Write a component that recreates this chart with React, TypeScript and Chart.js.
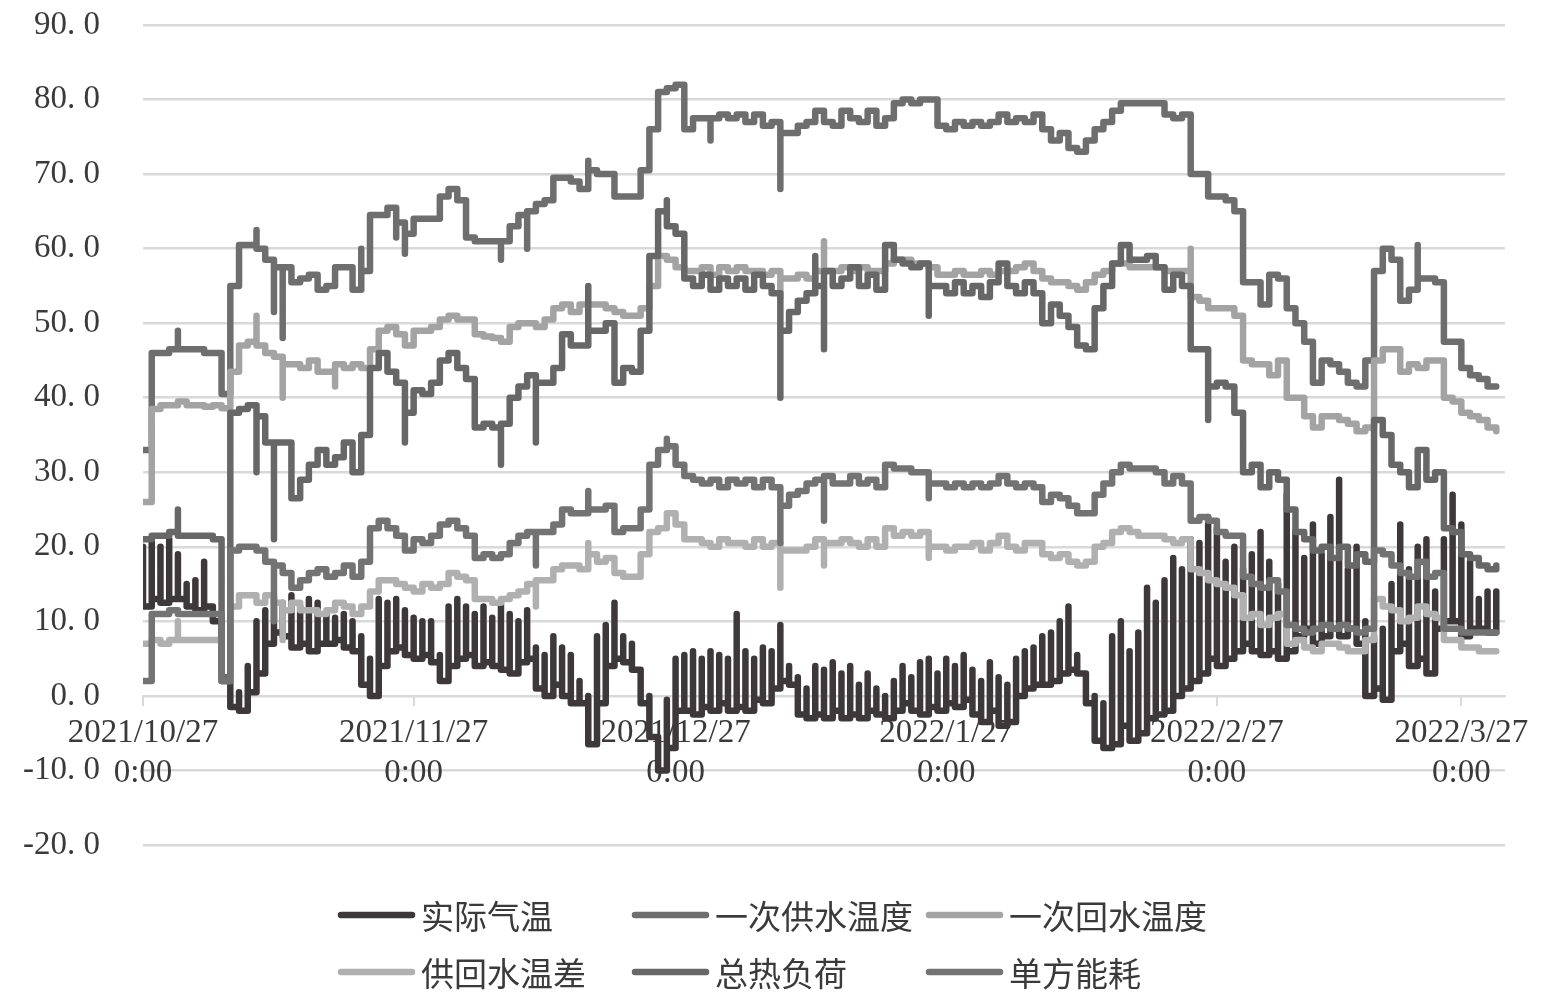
import React, { useEffect, useRef } from 'react';
import { Chart, registerables } from 'chart.js';

Chart.register(...registerables);

// ---- axis / label data ----
const xTickDays = [0, 31, 61, 92, 123, 151];
const xTickLabels = ['2021/10/27', '2021/11/27', '2021/12/27', '2022/1/27', '2022/2/27', '2022/3/27'];
const xTickTime = '0:00';
const yMin = -20;
const yMax = 90;
const yStep = 10;
const seriesNames = ['实际气温', '一次供水温度', '一次回水温度', '供回水温差', '总热负荷', '单方能耗'];

// ---- 实际气温: daily high / low (day index from 2021/10/27) ----
const tempHigh = [
  20, 21, 20, 21, 19, 15, 15.5, 18, 12, 10,
  1.5, 0.5, 4, 10, 11.5, 13, 12.5, 13.5, 12, 13,
  12.5, 11, 10.5, 11, 10, 8, 5, 13, 12.5, 13,
  11.5, 10.5, 10, 10, 5.5, 12, 13, 12, 11, 12,
  10.5, 12.5, 11, 10, 11.5, 6.5, 5.5, 8, 6.5, 5.5,
  2, 0, 8, 9.5, 12.5, 8, 7, 3, 0, -6,
  -0.5, 5, 5.5, 6, 5, 6, 5.5, 5, 11, 6,
  5, 6.5, 6, 9.5, 4, 2.5, 1, 4, 3.5, 4.5,
  3, 4, 1.5, 3, 1, 0, 2, 4, 2.5, 4.5,
  5, 3, 5, 4, 5.5, 3.5, 2, 4.5, 2.5, 1.5,
  5, 6, 6.5, 8, 8.5, 10, 12, 5.5, 1.5, 0,
  -1, 8, 10, 6, 8.5, 14.5, 12.5, 15.5, 18.5, 17,
  21, 20.5, 24, 22.5, 18, 20, 17, 19, 22, 18,
  15, 27, 22, 18.5, 23, 19, 24, 29, 17, 20,
  10, 8, 9, 15, 23, 17, 20, 21, 14, 21,
  27, 23, 18, 13, 14, 14,
];
const tempLow = [
  12, 13, 12.5, 13, 13, 12, 11.5, 12, 10, 2,
  -1.5, -2, 0.5, 3, 7, 8.5, 8, 6.5, 7, 6,
  7, 7, 7.5, 6.5, 6, 1.5, 0, 4, 6, 6.5,
  5.5, 5, 5.5, 4.5, 2, 4, 5, 5.5, 4, 4.5,
  4, 3.5, 3, 4.5, 5, 1, 0, 1.5, 0, -1,
  -1, -6.5, -1, 4, 5, 4.5, 3.5, -1, -5.5, -10,
  -7, -2, -2, -2.5, -1.5, -2, -1, -2, -1.5, -2,
  -0.5, -1, 1, 2, 1.5, -2.5, -3, -2.5, -3, -2,
  -3, -2.5, -3, -2, -2.5, -3, -2, -1, -2, -2.5,
  -1.5, -2, -1, -1.5, -0.5, -2.5, -3.5, -2, -4, -3.5,
  0, 1, 1.5, 1.5, 2, 3, 3.5, 3, -1, -6,
  -7, -6.5, -4, -6, -5, -3, -2.5, -2, 0, 1,
  2, 3, 5, 4, 5, 6, 7, 6, 5.5, 6,
  5, 6, 8, 9, 7, 8, 9, 8, 9, 7,
  0, 1, -0.5, 6, 7, 4, 5, 3, 9, 10,
  10, 8, 9, 9, 8.5, 8.5,
];

// ---- 一次供水温度 ----
const supplyTemp = [
  33, 46, 46, 46.5, 46.5, 46.5, 46.5, 46, 46, 40.5,
  55, 60.5, 60.5, 60, 58.5, 57.5, 57.5, 55.5, 56, 56.5,
  54.5, 55, 57.5, 57.5, 54.5, 57, 64.5, 64.5, 65.5, 63.5,
  62, 64, 64, 64, 67, 68, 66.5, 61.5, 61, 61,
  61, 61, 63, 64.5, 65, 66, 66.5, 69.5, 69.5, 69,
  68, 70.5, 70, 70, 67, 67, 67, 70.5, 76, 81,
  81.5, 82, 76, 77.5, 77.5, 77.5, 78, 77.5, 78, 77,
  78, 76.5, 77, 75.5, 75.5, 76.5, 77, 78.5, 77, 76.5,
  78.5, 77.5, 77, 78.5, 76.5, 77.5, 79.5, 80, 79.5, 80,
  80, 76.5, 76, 77, 76.5, 77, 76.5, 77, 78, 77,
  77.5, 77, 78, 76, 74.5, 75.5, 73.5, 73, 74.5, 76,
  77, 78.5, 79.5, 79.5, 79.5, 79.5, 79.5, 78, 77.5, 78,
  70, 70, 67, 67, 66.5, 65, 55.5, 55.5, 52.5, 56.5,
  56, 52, 50, 47.5, 42, 45, 44.5, 43.5, 42, 41.5,
  45, 57, 60, 58.5, 53, 54.5, 56, 56, 55.5, 47.5,
  47.5, 44, 43, 42.5, 41.5, 41.5,
];
const supplySpikes = [
  [4, 49], [13, 62.5], [15, 51.5], [16, 48], [25, 60], [29, 61.5], [30, 59.3],
  [41, 58.5], [44, 60], [51, 71.8], [65, 74.5], [73, 68], [146, 60.5],
];

// ---- 一次回水温度 ----
const returnTemp = [
  26, 38.5, 39, 39, 39.5, 39, 39, 38.8, 39, 38.6,
  43.5, 47, 47.5, 47, 46, 45.5, 44.5, 44.5, 44, 45,
  43.5, 43.5, 44.5, 44, 44.5, 44, 46.5, 49, 49.5, 48.5,
  47, 49, 49, 49.5, 50.5, 51, 50.5, 50.5, 48.5, 48.2,
  48, 47.5, 49.5, 50, 50, 49.5, 50.5, 52, 52.5, 51.5,
  52.5, 52.5, 52.5, 52, 51.5, 51, 51, 52, 55, 59,
  58.5, 57.5, 57, 57, 57.5, 56.5, 57.5, 57, 57.5, 57,
  57, 56.5, 57, 56, 56, 56.5, 56, 57, 57, 57,
  57.5, 57, 57.5, 57, 57, 58, 58.5, 58.5, 58, 58,
  57.5, 56.5, 56.5, 57, 56.5, 56.5, 57, 56.5, 57, 57,
  57.5, 58, 57, 56, 55.5, 55.5, 55, 54.5, 55.5, 56.5,
  57, 58, 58, 57.5, 57.5, 57.5, 57.5, 57, 57, 57,
  53.5, 53, 52, 52, 52, 51, 45, 44.5, 44.5, 43,
  45, 40, 40, 37.5, 36, 37.5, 37.5, 37, 36.5, 35.5,
  36, 45, 46.5, 46.5, 43.5, 44.5, 44, 45, 45, 40,
  39.5, 38, 37.5, 37, 36, 35.5,
];
const returnSpikes = [[13, 51], [16, 40], [22, 41.5], [73, 53.5], [78, 61], [120, 60]];

// ---- 供回水温差 ----
const tempDiff = [
  7, 7.5, 7, 7.5, 7.5, 7.5, 7.5, 7.5, 7.5, 2,
  12, 13.5, 13.5, 12.5, 13.5, 12.5, 11.5, 12.5, 11.5, 11.5,
  11, 11.5, 12.5, 12, 11, 12, 14, 15.5, 15.5, 15,
  14.5, 14, 15, 14.5, 15, 16.5, 16, 15.5, 13, 13,
  12.5, 13, 13.5, 14, 15, 15.5, 15.5, 17, 17.5, 17.5,
  17, 19, 18, 18.5, 16.5, 16, 16, 19, 22, 22.5,
  24.5, 23, 21, 21, 20.5, 20, 21, 20.5, 20.5, 20,
  21, 20, 20.5, 19.5, 19.5, 19.5, 20, 21, 20.5, 20.5,
  21, 20.5, 20, 21, 20, 22.5, 21.5, 22, 21.5, 22,
  20, 20, 19.5, 20, 20, 20.5, 19.5, 20.5, 21.5, 20,
  19.5, 20.5, 20.5, 19, 18.5, 19, 18, 17.5, 18, 20,
  20.5, 22, 22.5, 22, 21.5, 21.5, 21.5, 21, 20.5, 21,
  17, 16.5, 15.5, 15, 14.5, 13.5, 10.5, 11, 9.5, 10.5,
  11, 7, 7.5, 6.5, 6, 7, 7, 6.5, 6, 6,
  7.5, 13, 12, 11.5, 10, 10.5, 12, 11, 10.5, 7.5,
  7.5, 6.5, 6.5, 6, 6, 6,
];
const diffSpikes = [[4, 10], [16, 7.5], [45, 12], [51, 20.5], [73, 14.5], [78, 17.5], [90, 18.5]];

// ---- 总热负荷 ----
const heatLoad = [
  21, 21.5, 21.5, 22, 21.5, 21.5, 21.5, 21.5, 21, 2.5,
  38, 38.5, 39, 37.5, 34, 34, 34, 26.5, 29, 31,
  33, 31, 32, 34, 30, 35, 44, 46, 43.5, 42,
  38, 41, 40.5, 42, 45, 46, 44, 42.5, 36, 36.5,
  36, 36.5, 40, 41.5, 43, 42, 42, 44, 48.5, 47,
  47, 49, 49, 50, 42, 44, 43.5, 49, 59, 65,
  63, 62, 56, 55, 56.5, 54.5, 56, 55, 56, 54.5,
  56.5, 55, 54, 49, 51.5, 53, 54, 55, 57, 55,
  56, 57.5, 55, 56.5, 54.5, 60.5, 58.5, 58, 57.5, 58,
  55, 55, 54, 55.5, 54, 55, 53.5, 55.5, 58, 55,
  54, 55.5, 54, 50, 52.5, 51, 49.5, 47, 46.5, 52,
  55, 58, 60.5, 58.5, 58.5, 59, 57.5, 54.5, 56.5, 55,
  46.5, 46.5, 41.5, 42, 41.5, 38, 30, 31, 28, 30,
  29, 25, 22, 21, 19.5, 20, 18.5, 20, 17.5, 19,
  18, 37, 35, 31, 30, 28, 33, 29, 30, 22.5,
  22, 19, 18.5, 17.5, 17, 17.5,
];
const loadSpikes = [
  [4, 25], [13, 30], [15, 21], [30, 34], [41, 31], [45, 34], [51, 55], [60, 66.5],
  [73, 40], [77, 59], [78, 46.5], [90, 51], [122, 37],
];

// ---- 单方能耗 ----
const unitEnergy = [
  2, 11, 11, 11.5, 11, 11, 11, 11, 11, 2,
  19.5, 20, 20, 19.5, 18, 17.5, 16.5, 14.5, 15.5, 16.5,
  17, 16, 16.5, 17.5, 16, 18, 22.5, 23.5, 22.5, 21.5,
  19.5, 21, 20.5, 21.5, 23, 23.5, 22.5, 21.5, 18.5, 19,
  18.5, 19, 20.5, 21.5, 22, 22, 22, 23, 25, 24.5,
  24.5, 25, 25, 25.5, 22, 22.5, 22.5, 25, 31, 33,
  33.5, 31, 29.5, 29, 28.5, 29, 28, 29, 28.5, 29,
  28, 29, 28, 25.5, 27, 27.5, 28.5, 29, 29.5, 28.5,
  28.5, 29.5, 28.5, 29, 28, 31, 30.5, 30.5, 30, 30,
  28.5, 28.5, 28, 28.5, 28, 28.5, 28, 28.5, 29.5, 28.5,
  28, 28.5, 28, 26, 27, 26.5, 25.5, 24.5, 24.5, 27,
  28.5, 30, 31, 30.5, 30.5, 30.5, 30, 28.5, 29.5, 28.5,
  23.5, 24, 23.5, 22, 21.5, 21.5, 16, 15, 14.5, 15.5,
  14, 9.5, 9, 8.5, 9, 9.5, 9, 9.5, 9, 8.5,
  9, 19.5, 19, 17.5, 16.5, 16, 18, 16, 16.5, 9,
  9, 8.5, 8.5, 8.5, 8.5, 8.5,
];
const energySpikes = [[15, 10], [45, 17.5], [51, 27.5], [60, 34.5], [73, 20.5], [78, 23.5], [90, 26.5]];

// ---- styles ----
const seriesColors = ['#3d393a', '#6e6e6e', '#a3a3a3', '#b0b0b0', '#676767', '#737373'];
const AXIS_FONT = "'Liberation Serif', 'DejaVu Serif', serif";
const LEGEND_FONT = "'Noto Sans CJK SC', 'Noto Sans', sans-serif";
const TEXT_COLOR = '#3a3a3a';
const GRID_COLOR = '#d9d9d9';

type Pt = { x: number; y: number };

function buildDaily(daily: number[], spikes: number[][]): Pt[] {
  const pts: Pt[] = [];
  daily.forEach((v, d) => {
    spikes.forEach(([sd, sv]) => {
      if (sd === d) pts.push({ x: d, y: sv });
    });
    pts.push({ x: d, y: v });
  });
  return pts;
}

function buildTemp(): Pt[] {
  const pts: Pt[] = [];
  tempHigh.forEach((h, d) => {
    pts.push({ x: d, y: h });
    pts.push({ x: d, y: tempLow[d] });
  });
  return pts;
}

function formatY(v: number): string {
  return v.toFixed(1).replace('.', '. ');
}

const gridLegend = {
  id: 'gridLegend',
  afterDraw(chart: any) {
    const ctx = chart.ctx as CanvasRenderingContext2D;
    const colX = [341, 635, 929];
    const rowY = [915, 972];
    ctx.save();
    seriesNames.forEach((name, i) => {
      const x = colX[i % 3];
      const y = rowY[Math.floor(i / 3)];
      ctx.strokeStyle = seriesColors[i];
      ctx.lineWidth = 6.5;
      ctx.lineCap = 'round';
      ctx.beginPath();
      ctx.moveTo(x, y);
      ctx.lineTo(x + 71, y);
      ctx.stroke();
      ctx.fillStyle = TEXT_COLOR;
      ctx.font = `33px ${LEGEND_FONT}`;
      ctx.textBaseline = 'middle';
      ctx.textAlign = 'left';
      ctx.fillText(name, x + 80, y + 1);
    });
    ctx.restore();
  },
};

export default function App() {
  const ref = useRef<HTMLCanvasElement>(null);

  useEffect(() => {
    const canvas = ref.current;
    if (!canvas) return;
    const pointSets = [
      buildTemp(),
      buildDaily(supplyTemp, supplySpikes),
      buildDaily(returnTemp, returnSpikes),
      buildDaily(tempDiff, diffSpikes),
      buildDaily(heatLoad, loadSpikes),
      buildDaily(unitEnergy, energySpikes),
    ];
    const n = pointSets.length;
    const chart = new Chart(canvas, {
      type: 'line',
      data: {
        datasets: pointSets.map((pts, i) => ({
          label: seriesNames[i],
          data: pts,
          borderColor: seriesColors[i],
          backgroundColor: seriesColors[i],
          borderWidth: 6.5,
          pointRadius: 0,
          pointHoverRadius: 0,
          stepped: true,
          fill: false,
          borderCapStyle: 'round',
          borderJoinStyle: 'round',
          order: n - i,
        })),
      },
      options: {
        responsive: false,
        maintainAspectRatio: false,
        animation: false,
        devicePixelRatio: 1,
        events: [],
        layout: { padding: { left: 0, right: 40, top: 25, bottom: 150 } },
        plugins: {
          legend: { display: false },
          tooltip: { enabled: false },
          title: { display: false },
        },
        scales: {
          x: {
            type: 'linear',
            min: 0,
            max: 156,
            position: { y: 0 },
            afterBuildTicks: (scale: any) => {
              scale.ticks = xTickDays.map((v) => ({ value: v }));
            },
            afterFit: (scale: any) => {
              scale.paddingLeft = 0;
              scale.paddingRight = 0;
            },
            ticks: {
              autoSkip: false,
              maxRotation: 0,
              minRotation: 0,
              padding: 9,
              color: TEXT_COLOR,
              font: { family: AXIS_FONT, size: 33, lineHeight: 1.2 },
              callback: (value: any) => {
                const i = xTickDays.indexOf(Number(value));
                return i >= 0 ? [xTickLabels[i], xTickTime] : '';
              },
            },
            grid: { drawOnChartArea: false, drawTicks: true, tickLength: 9, color: GRID_COLOR, lineWidth: 2 },
            border: { display: true, color: GRID_COLOR, width: 2 },
          },
          y: {
            type: 'linear',
            min: yMin,
            max: yMax,
            afterFit: (scale: any) => {
              scale.width = 143;
              scale.paddingTop = 0;
              scale.paddingBottom = 0;
            },
            ticks: {
              stepSize: yStep,
              padding: 43,
              color: TEXT_COLOR,
              font: { family: AXIS_FONT, size: 33 },
              callback: (v: any) => formatY(Number(v)),
            },
            grid: { color: GRID_COLOR, lineWidth: 2.5, drawTicks: false },
            border: { display: false },
          },
        },
      } as any,
      plugins: [gridLegend],
    });
    return () => chart.destroy();
  }, []);

  return (
    <div style={{ position: 'absolute', left: 0, top: 0, width: 1545, height: 995, background: '#ffffff' }}>
      <canvas ref={ref} width={1545} height={995} style={{ display: 'block', width: 1545, height: 995 }} />
    </div>
  );
}
